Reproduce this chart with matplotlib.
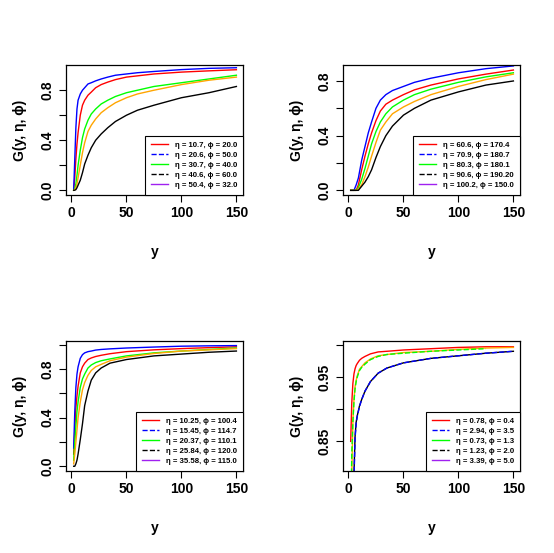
import matplotlib
matplotlib.use('Agg')
import matplotlib.pyplot as plt
from matplotlib.lines import Line2D
import numpy as np

plt.rcParams['font.family'] = ['Liberation Sans', 'DejaVu Sans']
plt.rcParams['font.weight'] = 'bold'

# panel 1 (top left)
p1_x = [2, 3, 4, 5, 6, 8, 10, 12, 15, 18, 22, 27, 33, 40, 50, 60, 75, 100, 125, 150]
p1_red = [0, 0.1, 0.25, 0.37, 0.46, 0.6, 0.68, 0.72, 0.76, 0.785, 0.82, 0.845, 0.865, 0.885, 0.905, 0.915, 0.93, 0.945, 0.955, 0.964]
p1_blue = [0, 0.25, 0.5, 0.65, 0.72, 0.77, 0.8, 0.82, 0.85, 0.86, 0.875, 0.89, 0.905, 0.92, 0.93, 0.94, 0.95, 0.965, 0.975, 0.98]
p1_green = [0, 0.01, 0.05, 0.12, 0.2, 0.32, 0.42, 0.49, 0.56, 0.61, 0.65, 0.69, 0.72, 0.75, 0.78, 0.8, 0.83, 0.86, 0.89, 0.92]
p1_orange = [0, 0.005, 0.02, 0.05, 0.1, 0.2, 0.3, 0.38, 0.47, 0.52, 0.57, 0.62, 0.66, 0.7, 0.74, 0.77, 0.8, 0.845, 0.88, 0.905]
p1_black = [0, 0, 0.005, 0.02, 0.04, 0.08, 0.14, 0.21, 0.28, 0.34, 0.4, 0.45, 0.5, 0.55, 0.6, 0.64, 0.68, 0.74, 0.78, 0.83]
p1_labels = ['η = 10.7, ϕ = 20.0', 'η = 20.6, ϕ = 50.0', 'η = 30.7, ϕ = 40.0',
             'η = 40.6, ϕ = 60.0', 'η = 50.4, ϕ = 32.0']

# panel 2 (top right)
p2_x = [2, 5, 7, 9, 12, 15, 18, 21, 25, 29, 34, 40, 50, 60, 75, 100, 125, 150]
p2_red = [0, 0, 0, 0.04, 0.15, 0.25, 0.34, 0.42, 0.51, 0.58, 0.63, 0.66, 0.70, 0.735, 0.77, 0.815, 0.85, 0.88]
p2_blue = [0, 0, 0.04, 0.09, 0.22, 0.32, 0.42, 0.5, 0.6, 0.66, 0.7, 0.73, 0.76, 0.79, 0.82, 0.86, 0.89, 0.91]
p2_green = [0, 0, 0, 0.02, 0.08, 0.16, 0.25, 0.34, 0.43, 0.5, 0.56, 0.61, 0.66, 0.7, 0.74, 0.79, 0.83, 0.86]
p2_orange = [0, 0, 0, 0.01, 0.04, 0.1, 0.17, 0.25, 0.35, 0.44, 0.5, 0.56, 0.61, 0.65, 0.70, 0.76, 0.81, 0.85]
p2_black = [0, 0, 0, 0, 0.03, 0.06, 0.1, 0.15, 0.24, 0.32, 0.4, 0.47, 0.55, 0.6, 0.66, 0.72, 0.77, 0.80]
p2_labels = ['η = 60.6, ϕ = 170.4', 'η = 70.9, ϕ = 180.7', 'η = 80.3, ϕ = 180.1',
             'η = 90.6, ϕ = 190.20', 'η = 100.2, ϕ = 150.0']

# panel 3 (bottom left)
p3_x = [2, 3, 4, 5, 6, 8, 10, 12, 15, 18, 22, 27, 35, 50, 75, 100, 125, 150]
p3_red = [0.1, 0.3, 0.48, 0.58, 0.66, 0.77, 0.82, 0.85, 0.88, 0.893, 0.905, 0.915, 0.928, 0.945, 0.96, 0.97, 0.978, 0.985]
p3_blue = [0.15, 0.45, 0.65, 0.76, 0.82, 0.89, 0.92, 0.935, 0.945, 0.95, 0.958, 0.963, 0.968, 0.975, 0.983, 0.99, 0.993, 0.995]
p3_green = [0.05, 0.2, 0.33, 0.45, 0.53, 0.65, 0.72, 0.76, 0.81, 0.835, 0.855, 0.87, 0.885, 0.91, 0.935, 0.95, 0.963, 0.975]
p3_orange = [0.02, 0.1, 0.2, 0.3, 0.4, 0.53, 0.63, 0.69, 0.75, 0.79, 0.82, 0.84, 0.87, 0.9, 0.93, 0.95, 0.96, 0.97]
p3_black = [0, 0, 0.02, 0.05, 0.1, 0.22, 0.35, 0.5, 0.62, 0.71, 0.77, 0.81, 0.85, 0.88, 0.91, 0.925, 0.94, 0.95]
p3_labels = ['η = 10.25, ϕ = 100.4', 'η = 15.45, ϕ = 114.7', 'η = 20.37, ϕ = 110.1',
             'η = 25.84, ϕ = 120.0', 'η = 35.58, ϕ = 115.0']

# panel 4 (bottom right), nan = not drawn
p4_x = [2, 3, 4, 5, 6, 7, 8, 10, 12, 15, 20, 27, 35, 50, 75, 100, 125, 150]
p4_red = [0.85, 0.91, 0.94, 0.955, 0.963, 0.968, 0.971, 0.976, 0.979, 0.982, 0.986, 0.989, 0.99, 0.992, 0.994, 0.996, 0.997, 0.997]
p4_orange = [0.70, 0.80, 0.88, 0.915, 0.935, 0.945, 0.952, 0.962, 0.966, 0.972, 0.978, 0.983, 0.985, 0.988, 0.99, 0.993, 0.995, 0.996]
p4_green = [0.72, 0.83, 0.88, 0.912, 0.932, 0.943, 0.95, 0.96, 0.965, 0.97, 0.977, 0.982, 0.985, 0.987, 0.99, 0.992, 0.994, np.nan]
p4_black = [np.nan, np.nan, 0.70, 0.80, 0.858, 0.88, 0.89, 0.905, 0.915, 0.928, 0.943, 0.956, 0.964, 0.972, 0.979, 0.983, 0.987, 0.99]
p4_blue = [np.nan, np.nan, 0.70, 0.79, 0.855, 0.878, 0.889, 0.904, 0.915, 0.928, 0.943, 0.956, 0.964, 0.972, 0.979, 0.983, 0.987, 0.99]
p4_labels = ['η = 0.78, ϕ = 0.4', 'η = 2.94, ϕ = 3.5', 'η = 0.73, ϕ = 1.3',
             'η = 1.23, ϕ = 2.0', 'η = 3.39, ϕ = 5.0']

RED, BLUE, GREEN, ORANGE, BLACK, PURPLE = '#FF0000', '#0000FF', '#00FF00', '#FFA500', '#000000', '#A020F0'


def make_legend(ax, labels):
    styles = [(RED, '-'), (BLUE, '--'), (GREEN, '-'), (BLACK, '--'), (PURPLE, '-')]
    handles = [Line2D([], [], color=c, ls=s, lw=1.0) for c, s in styles]
    leg = ax.legend(handles, labels, loc='lower right', fancybox=False,
                    edgecolor='black', framealpha=1, borderaxespad=0, handlelength=2.2,
                    handletextpad=0.9, labelspacing=0.33, borderpad=0.75,
                    prop={'weight': 'bold', 'size': 5.6})
    leg.get_frame().set_linewidth(0.8)


def make_sub(ax, x, curves, ylim, yticks, ylabels, labels):
    for y, c, s in curves:
        ax.plot(x, y, color=c, ls=s, lw=1.0)
    ax.set_xlim(-5, 156)
    ax.set_ylim(*ylim)
    ax.set_xticks([0, 50, 100, 150])
    ax.set_xticklabels(['0', '50', '100', '150'], fontsize=10, fontweight='bold')
    ax.set_yticks(yticks)
    ax.set_yticklabels(ylabels, fontsize=10, fontweight='bold', rotation=90, va='center')
    ax.tick_params(direction='out', length=5, width=0.8, pad=3)
    ax.set_xlabel('y', fontsize=10, fontweight='bold', labelpad=18)
    ax.set_ylabel('G(y, η, ϕ)', fontsize=10, fontweight='bold', labelpad=10)
    for sp in ax.spines.values():
        sp.set_linewidth(0.9)
    make_legend(ax, labels)


fig = plt.figure(figsize=(5.54, 5.53), dpi=100)
w, h = 0.3195, 0.2351
ax1 = fig.add_axes([0.1191, 0.6474, w, h])
ax2 = fig.add_axes([0.6191, 0.6474, w, h])
ax3 = fig.add_axes([0.1191, 0.1483, w, h])
ax4 = fig.add_axes([0.6191, 0.1483, w, h])

lab01 = ['0.0', '', '0.4', '', '0.8']
make_sub(ax1, p1_x, [(p1_red, RED, '-'), (p1_blue, BLUE, '-'), (p1_green, GREEN, '-'),
                     (p1_orange, ORANGE, '-'), (p1_black, BLACK, '-')],
         (-0.038, 1.002), [0, 0.2, 0.4, 0.6, 0.8], lab01, p1_labels)
make_sub(ax2, p2_x, [(p2_red, RED, '-'), (p2_blue, BLUE, '-'), (p2_green, GREEN, '-'),
                     (p2_orange, ORANGE, '-'), (p2_black, BLACK, '-')],
         (-0.034, 0.917), [0, 0.2, 0.4, 0.6, 0.8], lab01, p2_labels)
make_sub(ax3, p3_x, [(p3_red, RED, '-'), (p3_blue, BLUE, '-'), (p3_green, GREEN, '-'),
                     (p3_orange, ORANGE, '-'), (p3_black, BLACK, '-')],
         (-0.039, 1.033), [0, 0.2, 0.4, 0.6, 0.8, 1.0], ['0.0', '', '0.4', '', '0.8', ''], p3_labels)
make_sub(ax4, p4_x, [(p4_red, RED, '-'), (p4_orange, ORANGE, '-'), (p4_green, GREEN, '--'),
                     (p4_black, BLACK, '-'), (p4_blue, BLUE, '--')],
         (0.804, 1.006), [0.85, 0.90, 0.95, 1.00], ['0.85', '', '0.95', ''], p4_labels)

plt.savefig('out.png', dpi=100)
